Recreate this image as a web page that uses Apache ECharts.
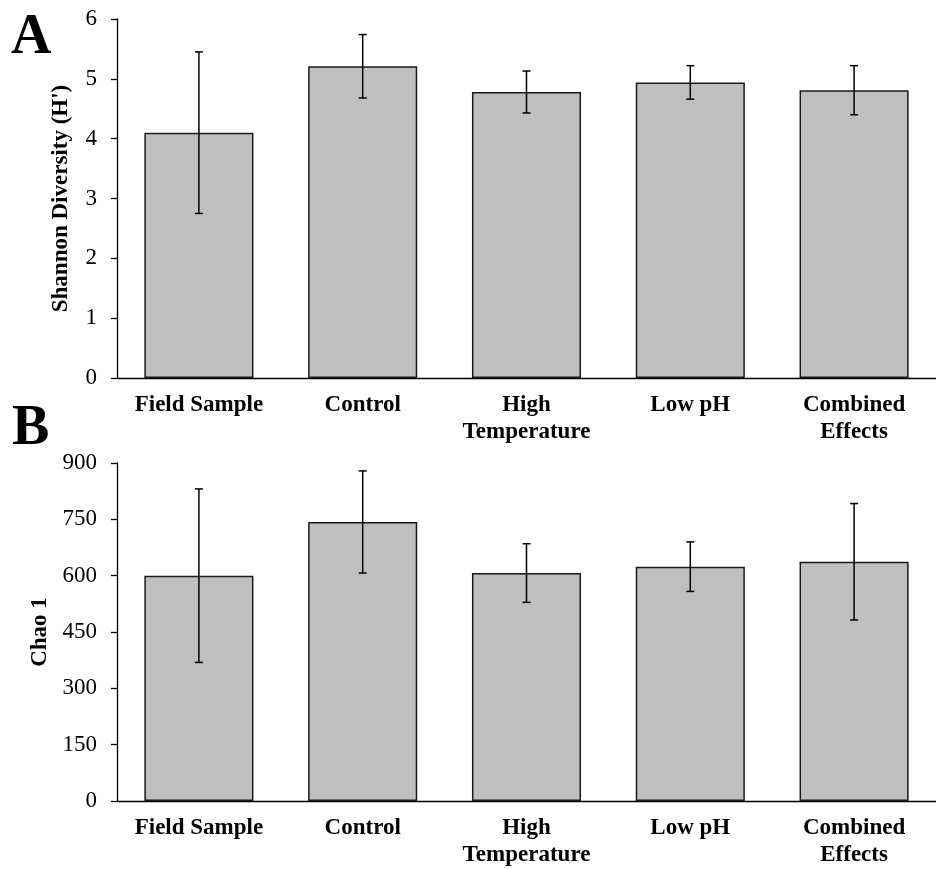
<!DOCTYPE html>
<html>
<head>
<meta charset="utf-8">
<script src="https://cdn.jsdelivr.net/npm/echarts@6/dist/echarts.min.js"></script>
<style>
  html, body { margin: 0; padding: 0; background: #fff; }
  #main { width: 936px; height: 869px; }
</style>
</head>
<body>
<div id="main"></div>
<script>
// data
var categories = ['Field Sample', 'Control', 'High\nTemperature', 'Low pH', 'Combined\nEffects'];
var shannonMean = [4.10, 5.21, 4.78, 4.94, 4.81];
var shannonErr = [1.35, 0.53, 0.35, 0.28, 0.41];
var chaoMean = [600, 743, 607, 624, 637];
var chaoErr = [231, 136, 78, 66, 155];
var shannonTicks = [0, 6, 1];
var chaoTicks = [0, 900, 150];

var myChart = echarts.init(document.getElementById('main'));
var serif = 'Liberation Serif, Times New Roman, serif';

function errData(mean, err) {
    var out = [];
    for (var i = 0; i < mean.length; i++) {
        out.push([i, mean[i] - err[i], mean[i] + err[i]]);
    }
    return out;
}

function renderErr(params, api) {
    var i = api.value(0);
    var lo = api.coord([i, api.value(1)]);
    var hi = api.coord([i, api.value(2)]);
    var w = 4;
    var st = { stroke: '#000', lineWidth: 1.5 };
    return {
        type: 'group',
        children: [
            { type: 'line', shape: { x1: hi[0], y1: hi[1], x2: lo[0], y2: lo[1] }, style: st },
            { type: 'line', shape: { x1: hi[0] - w, y1: hi[1], x2: hi[0] + w, y2: hi[1] }, style: st },
            { type: 'line', shape: { x1: lo[0] - w, y1: lo[1], x2: lo[0] + w, y2: lo[1] }, style: st }
        ]
    };
}

function xAxisOpt(gi) {
    return {
        type: 'category',
        gridIndex: gi,
        data: categories,
        axisLine: { lineStyle: { color: '#000', width: 1.3 } },
        axisTick: { length: 6, lineStyle: { color: '#000', width: 1.3 } },
        axisLabel: {
            interval: 0, margin: 14, color: '#000',
            fontFamily: serif, fontWeight: 'bold', fontSize: 23, lineHeight: 26.5
        }
    };
}

function yAxisOpt(gi, ticks, name, gap) {
    return {
        type: 'value',
        gridIndex: gi,
        min: ticks[0], max: ticks[1], interval: ticks[2],
        name: name,
        nameLocation: 'middle',
        nameGap: gap,
        nameTextStyle: { fontFamily: serif, fontWeight: 'bold', fontSize: 23, color: '#000' },
        splitLine: { show: false },
        axisLine: { show: true, lineStyle: { color: '#000', width: 1.3 } },
        axisTick: { show: true, length: 6, lineStyle: { color: '#000', width: 1.3 } },
        axisLabel: { margin: 20, color: '#000', fontFamily: serif, fontSize: 23 }
    };
}

var barStyle = { color: '#bfbfbf', borderColor: '#1a1a1a', borderWidth: 1.5 };

var option = {
    animation: false,
    title: [
        { text: 'A', left: 6, top: 6, textStyle: { fontFamily: serif, fontWeight: 'bold', fontSize: 56, color: '#000' } },
        { text: 'B', left: 7, top: 397, textStyle: { fontFamily: serif, fontWeight: 'bold', fontSize: 56, color: '#000' } }
    ],
    grid: [
        { left: 117, top: 19, width: 822, height: 359 },
        { left: 117, top: 463, width: 822, height: 338 }
    ],
    xAxis: [xAxisOpt(0), xAxisOpt(1)],
    yAxis: [
        yAxisOpt(0, shannonTicks, "Shannon Diversity (H')", 44),
        yAxisOpt(1, chaoTicks, 'Chao 1', 62)
    ],
    series: [
        {
            type: 'bar', xAxisIndex: 0, yAxisIndex: 0,
            data: shannonMean, barCategoryGap: '33.4%', itemStyle: barStyle
        },
        {
            type: 'custom', xAxisIndex: 0, yAxisIndex: 0, z: 5,
            renderItem: renderErr, data: errData(shannonMean, shannonErr)
        },
        {
            type: 'bar', xAxisIndex: 1, yAxisIndex: 1,
            data: chaoMean, barCategoryGap: '33.4%', itemStyle: barStyle
        },
        {
            type: 'custom', xAxisIndex: 1, yAxisIndex: 1, z: 5,
            renderItem: renderErr, data: errData(chaoMean, chaoErr)
        }
    ]
};
myChart.setOption(option);
</script>
</body>
</html>
